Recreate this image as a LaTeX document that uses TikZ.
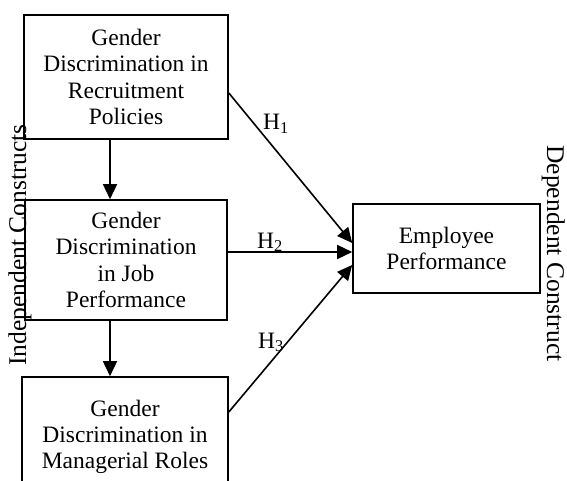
\documentclass[tikz,border=0pt]{standalone}
\usepackage{fontspec}
\setmainfont{Liberation Serif}
\usetikzlibrary{arrows.meta}
\newlength{\lw}
\setlength{\lw}{1.6pt}
\tikzstyle{every picture}+=[>={Triangle[length=15pt,width=14pt]}]
\tikzstyle{every picture}+=[line width=\lw]
\tikzstyle{every picture}+=[join=miter]
\tikzstyle{construct}=[draw,align=center,inner sep=0pt,font=\fontsize{23.5}{26.3}\selectfont]
\tikzstyle{hyp}=[anchor=base,font=\fontsize{23.5}{26}\selectfont]
\tikzstyle{side}=[anchor=base,font=\fontsize{25.5}{28}\selectfont]

\begin{document}
\begin{tikzpicture}[x=1pt,y=-1pt]
\useasboundingbox (0,0) rectangle (567,481);

\node[construct,minimum width=204pt,minimum height=124pt] (rec) at (126,77) {Gender\\Discrimination in\\Recruitment\\Policies};
\node[construct,minimum width=202pt,minimum height=120pt] (job) at (126,260) {Gender\\Discrimination\\in Job\\Performance};
\node[construct,minimum width=206pt,minimum height=120pt] (man) at (125,437) {Gender\\Discrimination in\\Managerial Roles};
\node[construct,minimum width=187pt,minimum height=89pt] (emp) at (446.5,248.5) {Employee\\Performance};

\draw[->] ([xshift=-16pt]rec.south) -- ([xshift=-16pt]job.north);
\draw[->] ([xshift=-16pt]job.south) -- ([xshift=-16pt]job.south |- man.north);

\draw[->] ([yshift=-16pt]rec.east) -- ([yshift=5.5pt]emp.west);
\draw[->] ([yshift=8pt]job.east) -- ([yshift=-3.5pt]emp.west);
\draw[->] ([yshift=25pt]man.east) -- ([yshift=-16.5pt]emp.west);

\node[hyp] (h1) at (276,130) {H\textsubscript{1}};
\node[hyp] (h2) at (270,248) {H\textsubscript{2}};
\node[hyp] (h3) at (271,348) {H\textsubscript{3}};

\node[side,rotate=90] (indep) at (26,245) {Independent Constructs};
\node[side,rotate=-90] (dep) at (547,253.5) {Dependent Construct};
\end{tikzpicture}
\end{document}
